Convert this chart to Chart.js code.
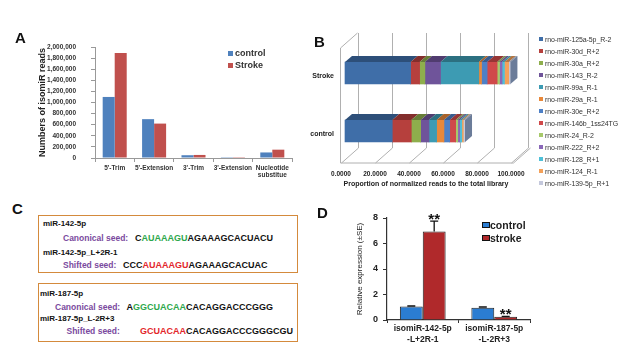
<!DOCTYPE html>
<html>
<head>
<meta charset="utf-8">
<script src="https://cdn.jsdelivr.net/npm/chart.js@4.4.0/dist/chart.umd.min.js"></script>
<style>
body{margin:0;background:#fff;font-family:Arial,"Liberation Sans",sans-serif;}
#fig{position:relative;width:638px;height:363px;overflow:hidden;background:#fff;}
canvas{position:absolute;}
.t{position:absolute;white-space:nowrap;line-height:1;transform:translateY(-50%);}
.box{position:absolute;border:1.5px solid #D48A3C;box-sizing:border-box;}
.sw{display:inline-block;position:absolute;}
</style>
</head>
<body>
<div id="fig">
  <canvas id="chartA" width="310" height="165" style="left:0;top:25px"></canvas>
  <canvas id="chartB" width="225" height="165" style="left:310px;top:25px"></canvas>
  <canvas id="chartD" width="230" height="150" style="left:310px;top:195px"></canvas>
</div>
<script>
// ---- panel A: isomiR types
const isoTypes = ["5'-Trim", "5'-Extension", "3'-Trim", "3'-Extension", ['Nucleotide', 'substitue']];
const readsControl = [1100000, 700000, 50000, 15000, 100000];
const readsStroke = [1890000, 620000, 55000, 15000, 150000];

// ---- panel B: proportion of top isomiRs
const libGroups = ['Stroke', 'control'];
const isomiRNames = ['rno-miR-125a-5p_R-2', 'rno-miR-30d_R+2', 'rno-miR-30a_R+2', 'rno-miR-143_R-2',
  'rno-miR-99a_R-1', 'rno-miR-29a_R-1', 'rno-miR-30e_R+2', 'rno-miR-146b_1ss24TG', 'rno-miR-24_R-2',
  'rno-miR-222_R+2', 'rno-miR-128_R+1', 'rno-miR-124_R-1', 'rno-miR-139-5p_R+1'];
const propStroke = [38.6, 5.3, 3.1, 9.2, 22.5, 1.6, 3.3, 5.9, 1.4, 1.5, 1.4, 2.5, 1.0];
const propControl = [27.8, 11.2, 5.5, 4.9, 4.5, 4.3, 3.4, 3.5, 1.2, 1.2, 1.2, 0.9, 1.0];
const propTicks = [0, 20, 40, 60, 80, 100];

// ---- panel D: qPCR
const qpcrLabels = [['isomiR-142-5p', '-L+2R-1'], ['isomiR-187-5p', '-L-2R+3']];
const qpcrControl = [1.05, 0.97];
const qpcrStroke = [6.95, 0.25];
const seControl = [0.05, 0.05];
const seStroke = [0.8, 0.03];
const sigMarks = ['**', '**'];

// ---- panel C: seed sequences
const seqBlocks = [
  {name: 'miR-142-5p', label: 'Canonical seed:', parts: [['C', '#111'], ['AUAAAGU', '#2EA84C'], ['AGAAAGCACUACU', '#111']]},
  {name: 'miR-142-5p_L+2R-1', label: 'Shifted seed:', parts: [['CCC', '#111'], ['AUAAAGU', '#E3262B'], ['AGAAAGCACUAC', '#111']]},
  {name: 'miR-187-5p', label: 'Canonical seed:', parts: [['A', '#111'], ['GGCUACAA', '#2EA84C'], ['CACAGGACCCGGG', '#111']]},
  {name: 'miR-187-5p_L-2R+3', label: 'Shifted seed:', parts: [['GCUACAA', '#E3262B'], ['CACAGGACCCGGGCGU', '#111']]}
];

const FONT = 'Arial, "Liberation Sans", sans-serif';
Chart.defaults.font.family = FONT;
Chart.defaults.color = '#222';
Chart.defaults.animation = false;

const fig = document.getElementById('fig');
function addText(txt, x, y, css) {
  const s = document.createElement('div');
  s.className = 't';
  s.style.left = x + 'px';
  s.style.top = y + 'px';
  s.style.cssText += css || '';
  s.textContent = txt;
  fig.appendChild(s);
  return s;
}
function addSwatch(x, y, w, h, color, border) {
  const d = document.createElement('div');
  d.className = 'sw';
  d.style.cssText = `left:${x}px;top:${y - h / 2}px;width:${w}px;height:${h}px;background:${color};` +
    (border ? 'border:1px solid #111;box-sizing:border-box;' : '');
  fig.appendChild(d);
}

// panel letters
addText('A', 15, 37, 'font:bold 15px ' + FONT + ';color:#111');
addText('B', 314, 41, 'font:bold 15px ' + FONT + ';color:#111');
addText('C', 12, 208, 'font:bold 15px ' + FONT + ';color:#111');
addText('D', 317, 212, 'font:bold 15px ' + FONT + ';color:#111');

// ---------- A ----------
const colCtl = '#4F81BD', colStk = '#C0504D';
new Chart(document.getElementById('chartA'), {
  type: 'bar',
  data: {
    labels: isoTypes,
    datasets: [
      {label: 'control', data: readsControl, backgroundColor: colCtl},
      {label: 'Stroke', data: readsStroke, backgroundColor: colStk}
    ]
  },
  options: {
    responsive: false,
    layout: {padding: {left: 37, top: 22, right: 18, bottom: 0}},
    datasets: {bar: {categoryPercentage: 0.61, barPercentage: 1}},
    plugins: {legend: {display: false}, tooltip: {enabled: false}},
    scales: {
      x: {
        afterFit: s => { s.height = 32; },
        grid: {drawOnChartArea: false, offset: true, tickLength: 4, color: '#999'},
        border: {color: '#999'},
        ticks: {font: {size: 6.5, weight: 'bold'}, color: '#333', padding: 2, autoSkip: false, maxRotation: 0}
      },
      y: {
        min: 0, max: 2000000,
        afterFit: s => { s.width = 58; },
        grid: {drawOnChartArea: false, tickLength: 4, color: '#999'},
        border: {color: '#999'},
        ticks: {stepSize: 200000, font: {size: 6.5, weight: 'bold'}, color: '#333', padding: 15,
          callback: v => v.toLocaleString('en-US')},
        title: {display: true, text: 'Numbers of isomiR reads', font: {size: 9, weight: 'bold'}, color: '#222', padding: 0}
      }
    }
  }
});
addSwatch(228, 53, 5, 5, colCtl);
addText('control', 235, 53, 'font:bold 9px ' + FONT + ';color:#333');
addSwatch(228, 65, 5, 5, colStk);
addText('Stroke', 235, 65, 'font:bold 9px ' + FONT + ';color:#333');

// ---------- B ----------
const segColors = ['#3F6EA8', '#B6403D', '#8EAE4C', '#6F549A', '#3D9BB3', '#E8883A', '#4E80C6',
  '#D0494A', '#A7C96A', '#8A68B8', '#4EC0D8', '#F4A15A', '#C4C8DC'];
function shade(hex, f) {
  const n = parseInt(hex.slice(1), 16);
  const r = Math.round(((n >> 16) & 255) * f), g = Math.round(((n >> 8) & 255) * f), b = Math.round((n & 255) * f);
  return `rgb(${r},${g},${b})`;
}
const FDX = 17, FDY = 15;   // floor depth
const BDX = 4, BDY = 3;     // bar front offset
const DDX = 7, DDY = 6;     // bar depth
const wall3d = {
  id: 'wall3d',
  beforeDatasetsDraw(chart) {
    const {ctx, chartArea: a, scales: {x}} = chart;
    ctx.save();
    ctx.strokeStyle = '#B0B0B0';
    ctx.lineWidth = 1;
    ctx.beginPath();
    propTicks.forEach(v => {
      const px = Math.round(x.getPixelForValue(v)) + 0.5;
      ctx.moveTo(px, a.bottom);
      ctx.lineTo(px + FDX, a.bottom - FDY);
      ctx.lineTo(px + FDX, a.top - 14);
    });
    const l = Math.round(a.left) - 0.5, r = Math.round(x.getPixelForValue(100)) + 0.5;
    ctx.moveTo(l, a.bottom); ctx.lineTo(l, a.top + 1); ctx.lineTo(l + FDX, a.top - 14);
    ctx.moveTo(l, a.bottom); ctx.lineTo(r + 2, a.bottom); ctx.lineTo(r + 2 + FDX, a.bottom - FDY);
    ctx.stroke();
    ctx.restore();
    ctx.save();
    ctx.translate(BDX, -BDY);
  },
  afterDatasetsDraw(chart) {
    const {ctx} = chart;
    ctx.restore();
    ctx.save();
    ctx.translate(BDX, -BDY);
    const n = chart.data.datasets.length;
    chart.data.datasets.forEach((ds, i) => {
      chart.getDatasetMeta(i).data.forEach(el => {
        const p = el.getProps(['x', 'y', 'base', 'height'], true);
        const left = Math.min(p.x, p.base), right = Math.max(p.x, p.base);
        const top = p.y - p.height / 2, bot = p.y + p.height / 2;
        ctx.fillStyle = shade(segColors[i], 0.72);
        ctx.beginPath();
        ctx.moveTo(left, top); ctx.lineTo(right, top);
        ctx.lineTo(right + DDX, top - DDY); ctx.lineTo(left + DDX, top - DDY);
        ctx.closePath(); ctx.fill();
        if (i === n - 1) {
          ctx.fillStyle = '#6B7C99';
          ctx.beginPath();
          ctx.moveTo(right, top); ctx.lineTo(right + DDX, top - DDY);
          ctx.lineTo(right + DDX, bot - DDY); ctx.lineTo(right, bot);
          ctx.closePath(); ctx.fill();
        }
      });
    });
    ctx.restore();
  }
};
new Chart(document.getElementById('chartB'), {
  type: 'bar',
  data: {
    labels: libGroups,
    datasets: isomiRNames.map((nm, i) => ({
      label: nm, data: [propStroke[i], propControl[i]], backgroundColor: segColors[i], clip: false
    }))
  },
  options: {
    indexAxis: 'y',
    responsive: false,
    layout: {padding: {left: 0, top: 22, right: 24, bottom: 0}},
    datasets: {bar: {barThickness: 22}},
    plugins: {legend: {display: false}, tooltip: {enabled: false}},
    scales: {
      x: {
        stacked: true, min: 0, max: 100,
        afterFit: s => { s.height = 27; },
        afterBuildTicks: s => { s.ticks = propTicks.map(v => ({value: v})); },
        grid: {display: false, drawTicks: false},
        border: {display: false},
        ticks: {font: {size: 6.5, weight: 'bold'}, color: '#222', padding: 7, maxRotation: 0, autoSkip: false,
          callback: v => Number(v).toFixed(4)},
        title: {display: true, text: 'Proportion of normalized reads to the total library',
          font: {size: 7, weight: 'bold'}, color: '#222', padding: {top: 0, bottom: 2}}
      },
      y: {
        stacked: true,
        afterFit: s => { s.width = 31; },
        grid: {display: false, drawTicks: false},
        border: {display: false},
        ticks: {font: {size: 7, weight: 'bold'}, color: '#222', padding: 7}
      }
    }
  },
  plugins: [wall3d]
});
isomiRNames.forEach((nm, i) => {
  const y = 38.5 + i * 12;
  addSwatch(539, y, 4, 4, segColors[i]);
  addText(nm, 545, y, 'font:7px ' + FONT + ';color:#333;letter-spacing:-0.1px');
});

// ---------- C ----------
const boxes = [[38, 215, 260, 58], [38, 283, 260, 59]];
boxes.forEach(b => {
  const d = document.createElement('div');
  d.className = 'box';
  d.style.cssText = `left:${b[0]}px;top:${b[1]}px;width:${b[2]}px;height:${b[3]}px`;
  fig.appendChild(d);
});
const linePos = [
  {nx: 43, ny: 223, lx: 63, ly: 237.7, sx: 135},
  {nx: 43, ny: 251.7, lx: 63, ly: 265, sx: 123},
  {nx: 40, ny: 293.3, lx: 55, ly: 306.7, sx: 126.5},
  {nx: 40, ny: 318.3, lx: 66.5, ly: 330.7, sx: 140}
];
seqBlocks.forEach((blk, i) => {
  const p = linePos[i];
  addText(blk.name, p.nx, p.ny, 'font:bold 8px ' + FONT + ';color:#111');
  addText(blk.label, p.lx, p.ly, 'font:bold 8.5px ' + FONT + ';color:#7A4A9E');
  const s = addText('', p.sx, p.ly, 'font:bold 9px ' + FONT);
  blk.parts.forEach(([t, c]) => {
    const sp = document.createElement('span');
    sp.textContent = t; sp.style.color = c;
    s.appendChild(sp);
  });
});

// ---------- D ----------
const dCtl = '#2B7DD2', dStk = '#B0292B';
const errStars = {
  id: 'errStars',
  afterDatasetsDraw(chart) {
    const {ctx, scales: {y}} = chart;
    const ses = [seControl, seStroke];
    ctx.save();
    ctx.strokeStyle = '#111';
    ctx.lineWidth = 1.3;
    chart.data.datasets.forEach((ds, i) => {
      chart.getDatasetMeta(i).data.forEach((el, j) => {
        const top = y.getPixelForValue(ds.data[j] + ses[i][j]);
        ctx.beginPath();
        ctx.moveTo(el.x, el.y); ctx.lineTo(el.x, top);
        ctx.moveTo(el.x - 4, top); ctx.lineTo(el.x + 4, top);
        ctx.stroke();
        if (i === 1) {
          ctx.fillStyle = '#111';
          ctx.font = 'bold 15px ' + FONT;
          ctx.textAlign = 'center';
          ctx.textBaseline = 'alphabetic';
          ctx.fillText(sigMarks[j], el.x, top - 6 + 8.5);
        }
      });
    });
    ctx.restore();
  }
};
new Chart(document.getElementById('chartD'), {
  type: 'bar',
  data: {
    labels: qpcrLabels,
    datasets: [
      {label: 'control', data: qpcrControl, backgroundColor: dCtl, borderColor: '#222', borderWidth: 1},
      {label: 'stroke', data: qpcrStroke, backgroundColor: dStk, borderColor: '#222', borderWidth: 1}
    ]
  },
  options: {
    responsive: false,
    layout: {padding: {left: 45, top: 23, right: 10, bottom: 0}},
    datasets: {bar: {categoryPercentage: 0.64, barPercentage: 1}},
    plugins: {legend: {display: false}, tooltip: {enabled: false}},
    scales: {
      x: {
        afterFit: s => { s.height = 25; },
        grid: {drawOnChartArea: false, offset: true, tickLength: 3, color: '#333'},
        border: {color: '#333', width: 1.2},
        ticks: {font: {size: 8.5, weight: 'bold'}, color: '#222', padding: 1, autoSkip: false, maxRotation: 0}
      },
      y: {
        min: 0, max: 8,
        afterFit: s => { s.width = 32; },
        grid: {drawOnChartArea: false, tickLength: 4, color: '#333'},
        border: {color: '#333', width: 1.2},
        ticks: {stepSize: 2, font: {size: 9, weight: 'bold'}, color: '#222', padding: 5},
        title: {display: true, text: 'Relative expression (±SE)', font: {size: 8}, color: '#222', padding: 0}
      }
    }
  },
  plugins: [errStars]
});
addSwatch(482, 225, 8, 6, dCtl, true);
addText('control', 490, 225, 'font:bold 10.5px ' + FONT + ';color:#222');
addSwatch(482, 238, 8, 6, dStk, true);
addText('stroke', 490, 238, 'font:bold 10.5px ' + FONT + ';color:#222');
</script>
</body>
</html>
